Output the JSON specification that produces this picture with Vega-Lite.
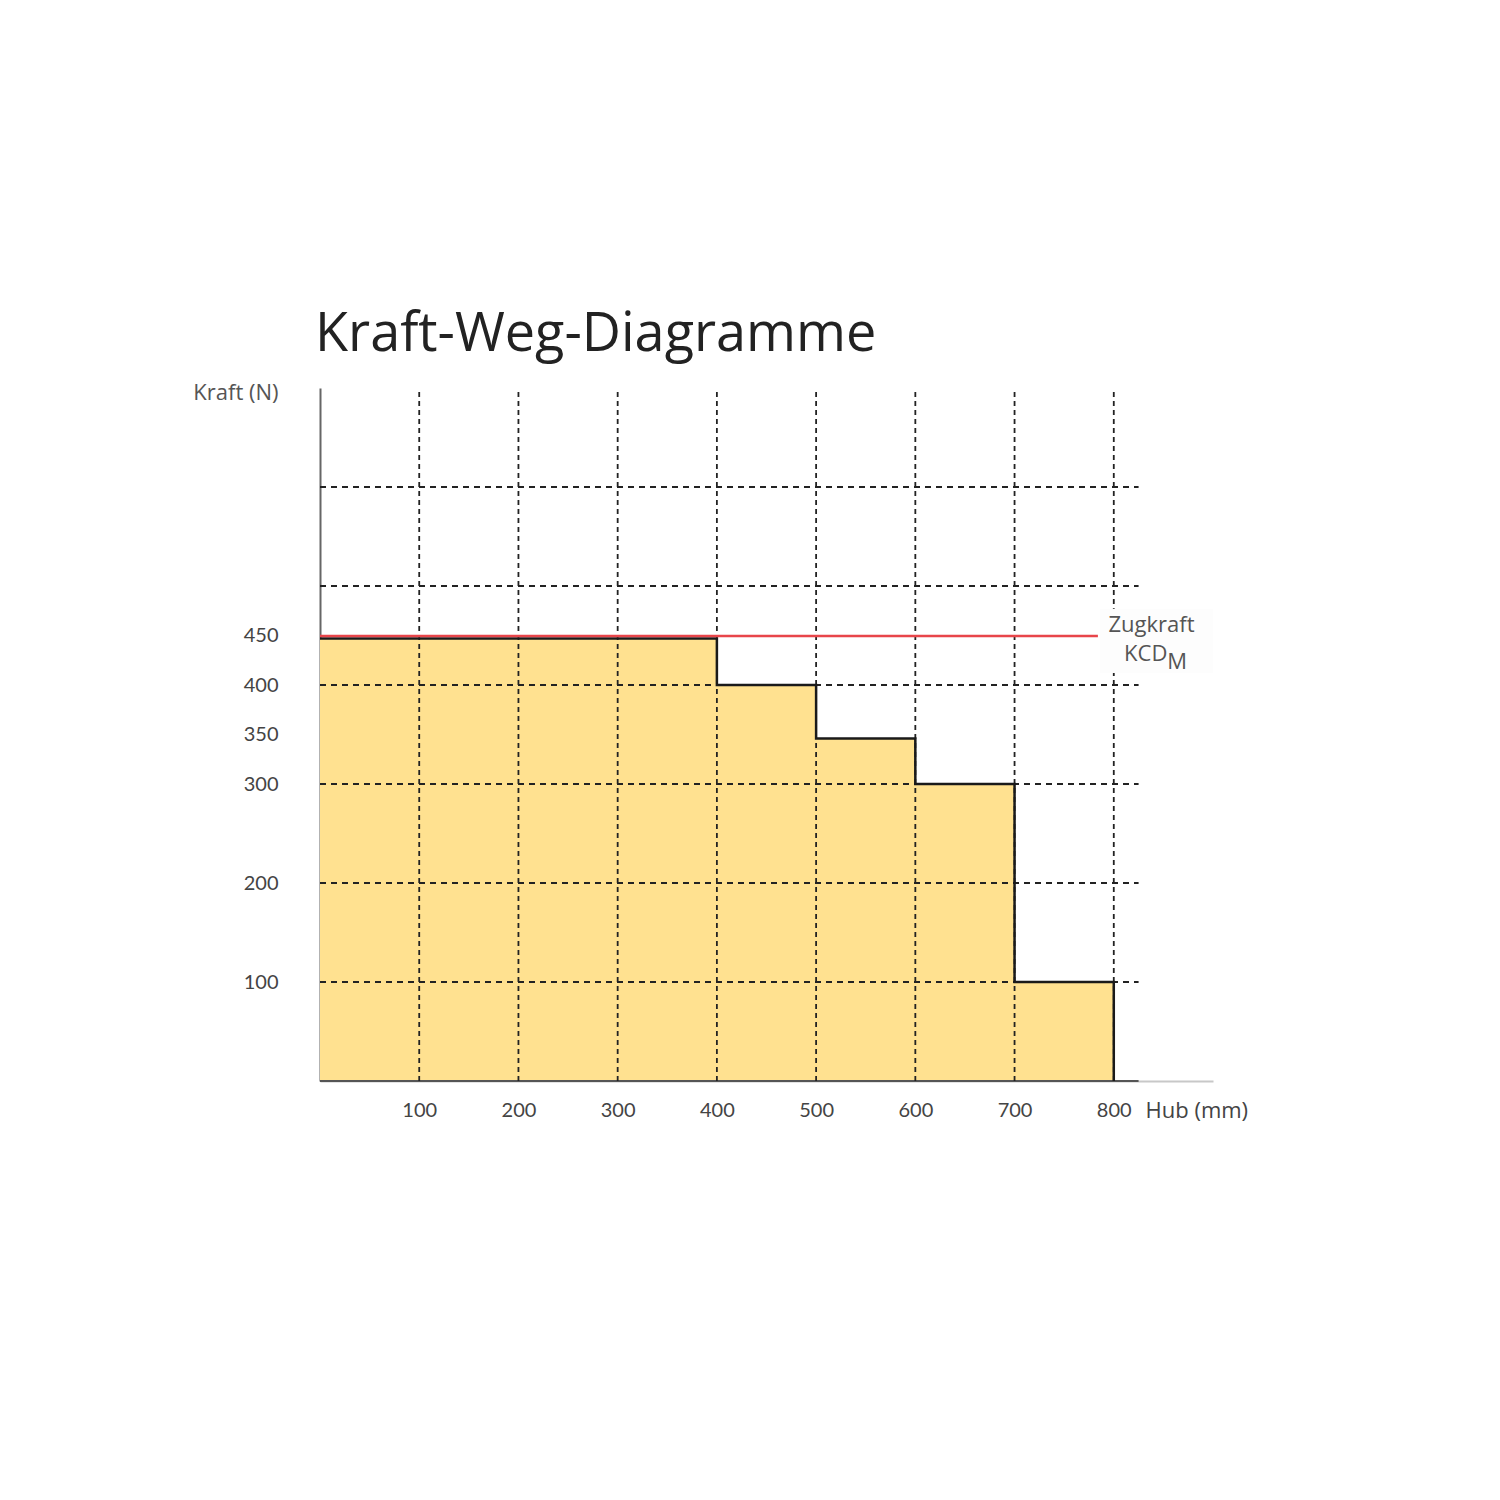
{
  "$schema": "https://vega.github.io/schema/vega-lite/v6.json",
  "autosize": "none",
  "width": 893,
  "height": 693,
  "padding": {"left": 320, "top": 388, "right": 287, "bottom": 419},
  "background": "white",
  "config": {"view": {"stroke": null}, "font": "Lato"},
  "title": {
    "text": "Kraft-Weg-Diagramme",
    "anchor": "start",
    "frame": "group",
    "fontSize": 54,
    "fontWeight": "normal",
    "color": "#222222",
    "font": "Open Sans",
    "baseline": "alphabetic",
    "offset": -24,
    "dx": -5
  },
  "datasets": {
    "steps": [
      {"hub": 0, "kraft": 447},
      {"hub": 400, "kraft": 400},
      {"hub": 500, "kraft": 346},
      {"hub": 600, "kraft": 300},
      {"hub": 700, "kraft": 100},
      {"hub": 800, "kraft": 100},
      {"hub": 800, "kraft": 0}
    ],
    "vgrid": [
      {"x": 100}, {"x": 200}, {"x": 300}, {"x": 400},
      {"x": 500}, {"x": 600}, {"x": 700}, {"x": 800}
    ],
    "hgrid": [
      {"y": 100}, {"y": 200}, {"y": 300}, {"y": 400}, {"y": 500}, {"y": 600}
    ]
  },
  "layer": [
    {
      "data": {"name": "steps"},
      "mark": {"type": "area", "interpolate": "step-after", "color": "#FFE190", "opacity": 1},
      "encoding": {
        "x": {
          "field": "hub", "type": "quantitative",
          "scale": {"domain": [0, 900], "nice": false},
          "axis": {
            "values": [100, 200, 300, 400, 500, 600, 700, 800],
            "grid": false, "ticks": false,
            "domainColor": "#c8c8c8", "domainWidth": 2,
            "labelFontSize": 20, "labelColor": "#444444", "labelPadding": 19,
            "labelFont": "Lato",
            "title": "Hub (mm)", "titleFontSize": 22, "titleFontWeight": "normal",
            "titleFont": "Open Sans",
            "titleColor": "#444444", "titleAnchor": "start", "titleAlign": "left",
            "titleX": 825, "titleY": 29, "titleBaseline": "middle"
          }
        },
        "y": {
          "field": "kraft", "type": "quantitative",
          "scale": {"domain": [0, 700], "nice": false},
          "axis": {
            "values": [100, 200, 300, 350, 400, 450],
            "grid": false, "ticks": false,
            "domainColor": "#666666", "domainWidth": 2,
            "labelFontSize": 20, "labelColor": "#444444", "labelPadding": 42,
            "title": "Kraft (N)", "titleFontSize": 22, "titleFontWeight": "normal",
            "titleFont": "Open Sans",
            "titleColor": "#555555", "titleAngle": 0, "titleAlign": "right",
            "titleBaseline": "middle", "titleX": -42, "titleY": 4
          }
        }
      }
    },
    {
      "data": {"values": [{"a": 0, "b": 825}]},
      "mark": {"type": "rule", "color": "#555555", "strokeWidth": 2},
      "encoding": {
        "x": {"field": "a", "type": "quantitative"},
        "x2": {"field": "b"},
        "y": {"datum": 0, "type": "quantitative"}
      }
    },
    {
      "data": {"name": "vgrid"},
      "mark": {"type": "rule", "color": "#222222", "strokeWidth": 1.8, "strokeDash": [5, 4]},
      "encoding": {
        "x": {"field": "x", "type": "quantitative"},
        "y": {"datum": 0, "type": "quantitative"},
        "y2": {"datum": 700}
      }
    },
    {
      "data": {"name": "hgrid"},
      "mark": {"type": "rule", "color": "#222222", "strokeWidth": 1.8, "strokeDash": [6, 5]},
      "encoding": {
        "y": {"field": "y", "type": "quantitative"},
        "x": {"datum": 0, "type": "quantitative"},
        "x2": {"datum": 825}
      }
    },
    {
      "data": {"name": "steps"},
      "mark": {"type": "line", "interpolate": "step-after", "color": "#1a1a1a", "strokeWidth": 2.5},
      "encoding": {
        "x": {"field": "hub", "type": "quantitative"},
        "y": {"field": "kraft", "type": "quantitative"}
      }
    },
    {
      "data": {"values": [{"y": 449.5, "x1": 0, "x2": 784}]},
      "mark": {"type": "rule", "color": "#E8454A", "strokeWidth": 2.5},
      "encoding": {
        "y": {"field": "y", "type": "quantitative"},
        "x": {"field": "x1", "type": "quantitative"},
        "x2": {"field": "x2"}
      }
    },
    {
      "data": {"values": [{"x1": 786, "x2": 900, "y1": 412, "y2": 477}]},
      "mark": {"type": "rect", "color": "#fdfdfd", "clip": false},
      "encoding": {
        "x": {"field": "x1", "type": "quantitative"},
        "x2": {"field": "x2"},
        "y": {"field": "y1", "type": "quantitative"},
        "y2": {"field": "y2"}
      }
    },
    {
      "data": {"values": [{"x": 838, "y": 461, "t": "Zugkraft"}]},
      "mark": {"type": "text", "color": "#555555", "baseline": "middle", "align": "center", "font": "Open Sans", "fontSize": 22},
      "encoding": {
        "x": {"field": "x", "type": "quantitative"},
        "y": {"field": "y", "type": "quantitative"},
        "text": {"field": "t"}
      }
    },
    {
      "data": {"values": [{"x": 854, "y": 431, "t": "KCD"}]},
      "mark": {"type": "text", "color": "#555555", "baseline": "middle", "align": "right", "font": "Open Sans", "fontSize": 22},
      "encoding": {
        "x": {"field": "x", "type": "quantitative"},
        "y": {"field": "y", "type": "quantitative"},
        "text": {"field": "t"}
      }
    },
    {
      "data": {"values": [{"x": 854, "y": 423, "t": "M"}]},
      "mark": {"type": "text", "color": "#555555", "baseline": "middle", "align": "left", "font": "Open Sans", "fontSize": 22},
      "encoding": {
        "x": {"field": "x", "type": "quantitative"},
        "y": {"field": "y", "type": "quantitative"},
        "text": {"field": "t"}
      }
    }
  ]
}
